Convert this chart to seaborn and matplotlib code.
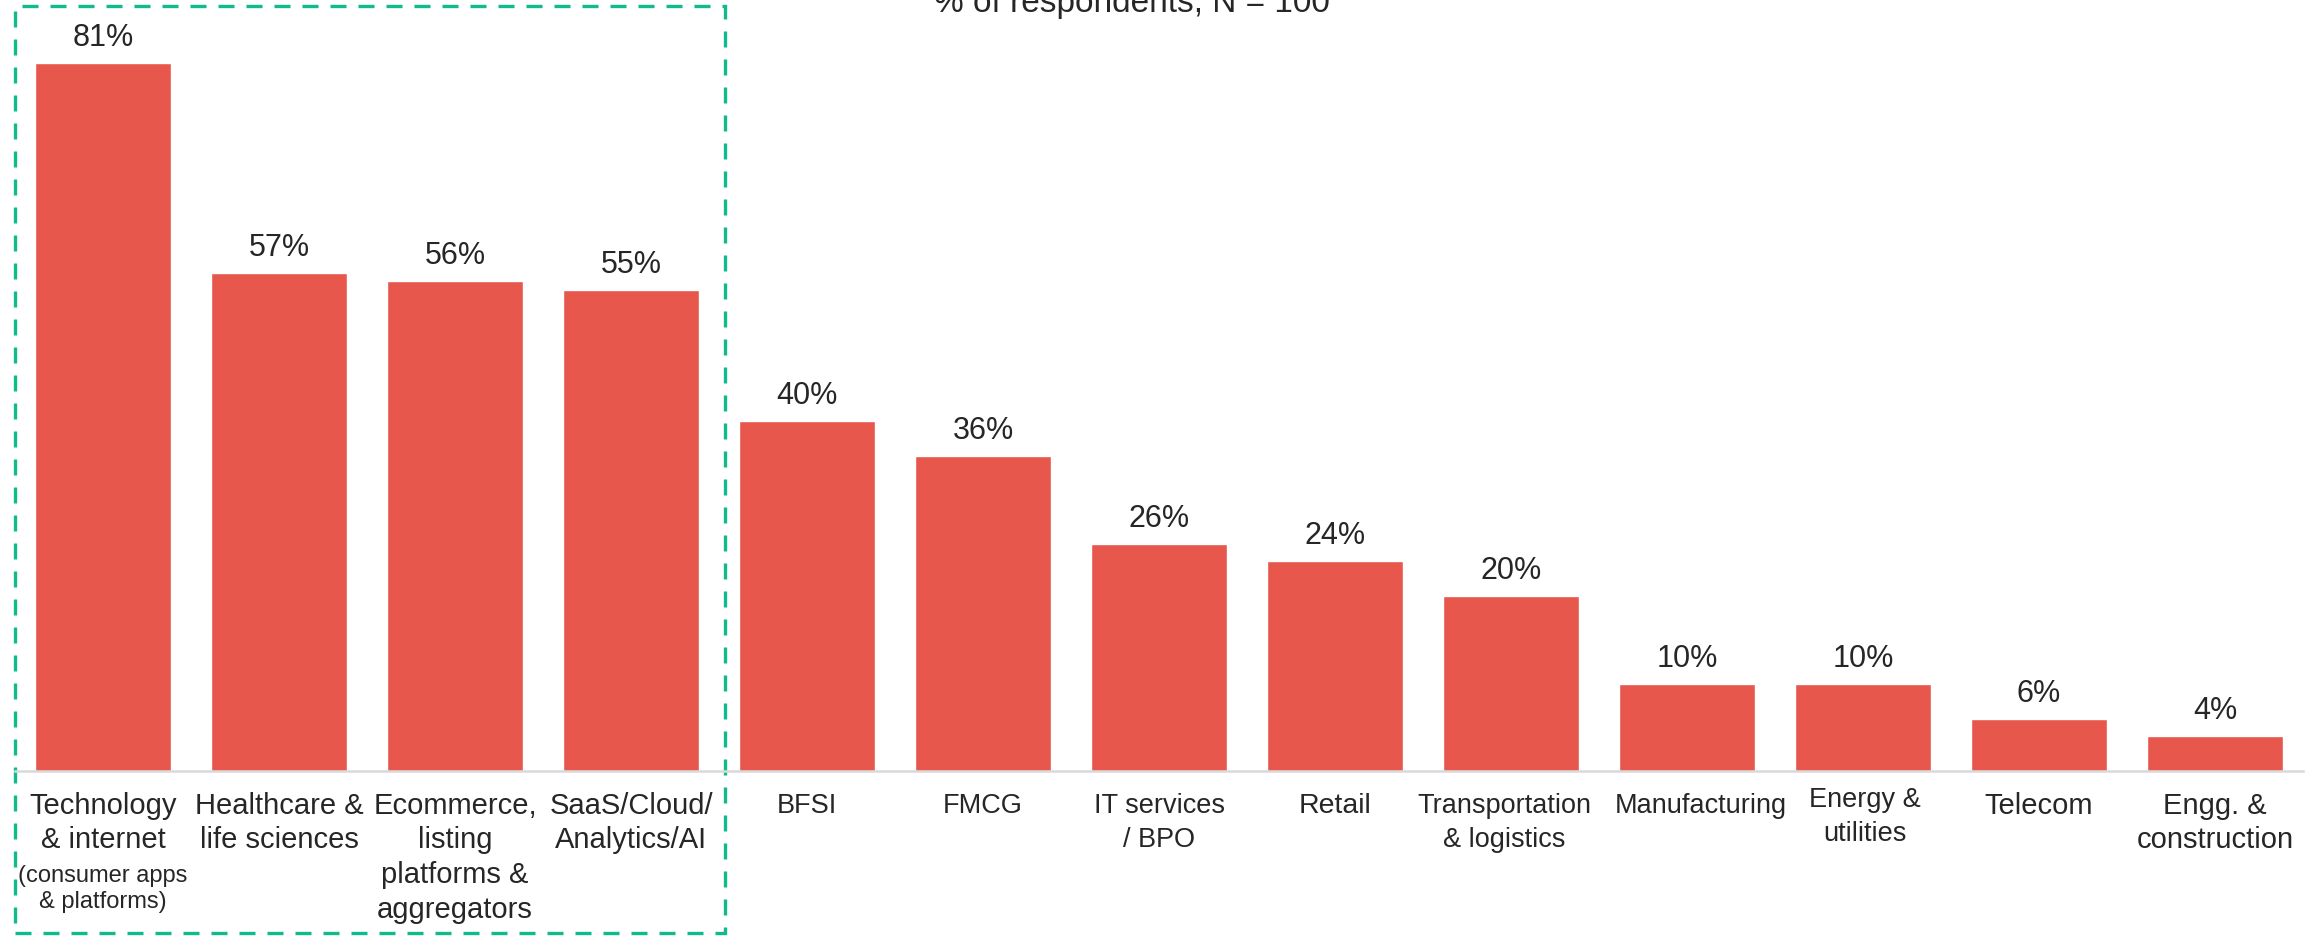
import numpy as np
import pandas as pd
import matplotlib
matplotlib.use('Agg')
import matplotlib.pyplot as plt
import matplotlib.transforms as mtransforms
from matplotlib.patches import Rectangle
import seaborn as sns

sns.set_style('white')
plt.rcParams['font.family'] = ['Liberation Sans', 'DejaVu Sans']

# data
categories = ['Technology\n& internet', 'Healthcare &\nlife sciences',
              'Ecommerce,\nlisting\nplatforms &\naggregators', 'SaaS/Cloud/\nAnalytics/AI',
              'BFSI', 'FMCG', 'IT services\n/ BPO', 'Retail', 'Transportation\n& logistics',
              'Manufacturing', 'Energy &\nutilities', 'Telecom', 'Engg. &\nconstruction']
values = [81, 57, 56, 55, 40, 36, 26, 24, 20, 10, 10, 6, 4]
title = '% of respondents, N = 100'
sub_note = '(consumer apps\n& platforms)'

bar_color = '#E8574C'
box_color = '#10BA8D'

df = pd.DataFrame({'cat': categories, 'val': values})

fig = plt.figure(figsize=(23.18, 9.37), dpi=100)
ax = fig.add_axes([0.0065, 0.176, 0.987, 0.824])

sns.barplot(data=df, x='cat', y='val', color=bar_color, width=0.77, saturation=1, ax=ax)

ax.set_ylim(0, 88.3)
ax.set_xlim(-0.5, len(values) - 0.5)
ax.set_xlabel('')
ax.set_ylabel('')
ax.set_yticks([])
for s in ['top', 'left', 'right']:
    ax.spines[s].set_visible(False)
ax.spines['bottom'].set_color('#D9D9D9')
ax.spines['bottom'].set_linewidth(1.8)
ax.tick_params(axis='x', length=0, pad=14)

# the original squeezes some labels tighter than others
label_size = {4: 19.5, 5: 19.5, 6: 19.5, 7: 20.5, 8: 19.5, 9: 19.5, 10: 19.5}
# small nudges (pixels) the original layout has on a few labels
nudge = {8: (-7, 0), 9: (14, 0), 10: (2, 6)}
for i, t in enumerate(ax.get_xticklabels()):
    fs = label_size.get(i, 21)
    t.set_fontsize(fs)
    t.set_linespacing(36 / (0.94 * fs * 100 / 72))
    dx, dy = nudge.get(i, (0, 0))
    if fs < 21:
        dy -= 1
    if dx or dy:
        t.set_transform(t.get_transform() + mtransforms.ScaledTranslation(dx / 100, dy / 100, fig.dpi_scale_trans))

ax.bar_label(ax.containers[0], labels=[f'{v}%' for v in values], padding=8, fontsize=22)

# smaller note under first category
ax.annotate(sub_note, xy=(0, 0), xycoords=('data', 'axes fraction'),
            xytext=(0, -67), textcoords='offset points', ha='center', va='top',
            fontsize=17, linespacing=1.2)

# dashed highlight box around the first four categories
trans = mtransforms.blended_transform_factory(ax.transData, fig.transFigure)
box = Rectangle((-0.5, 0.003), 4.035, 0.989, transform=trans, fill=False,
                edgecolor=box_color, lw=2.4, linestyle=(0, (4.8, 3.6)), clip_on=False)
ax.add_patch(box)

fig.text(0.4885, 0.987, title, ha='center', va='baseline', fontsize=24)

fig.savefig('out.png', dpi=100)
